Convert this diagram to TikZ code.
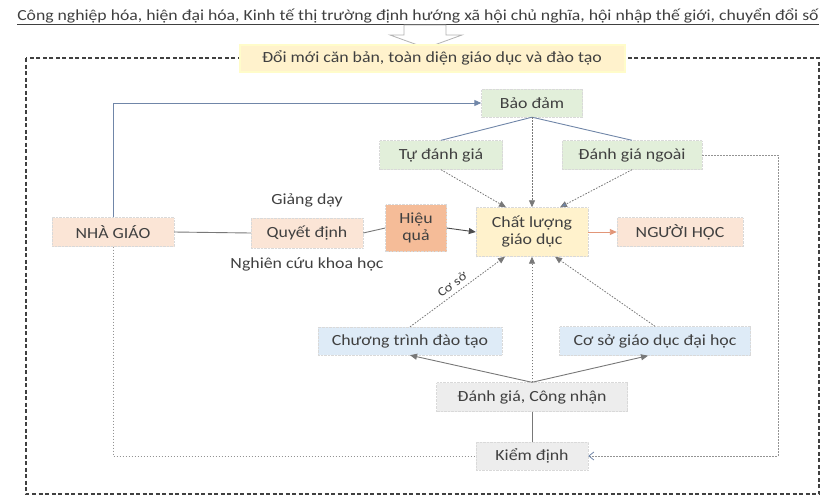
\documentclass[tikz,border=0pt]{standalone}
\usepackage{fontspec}
\setmainfont{Carlito}[FakeStretch=1.15]
\usetikzlibrary{
    arrows.meta,
    positioning,
    calc
}
\definecolor{txtgray}{RGB}{64,64,64}
\definecolor{lnblue}{RGB}{112,134,168}
\definecolor{lngray}{RGB}{120,120,120}
\definecolor{fgreen}{RGB}{226,239,218}
\definecolor{fyellow}{RGB}{255,242,204}
\definecolor{fpeach}{RGB}{251,229,214}
\definecolor{forange}{RGB}{245,188,152}
\definecolor{fblue}{RGB}{222,235,247}
\definecolor{fgray}{RGB}{237,237,237}
\definecolor{arrorange}{RGB}{226,150,120}
\tikzset{
  box/.style    = {draw=gray!30, densely dotted, text=txtgray, align=center,
                   font=\fontsize{15.5}{17}\selectfont, inner sep=2pt},
  gbox/.style   = {box, fill=fgreen},
  ybox/.style   = {box, fill=fyellow},
  pbox/.style   = {box, fill=fpeach},
  obox/.style   = {box, fill=forange},
  bbox/.style   = {box, fill=fblue},
  hbox/.style   = {box, fill=fgray},
  lab/.style    = {text=txtgray, font=\fontsize{15.5}{17}\selectfont},
  arr/.style    = {-{Triangle[length=7pt,width=6pt]}, line width=0.9pt, lngray},
  dotarr/.style = {-{Triangle[length=7pt,width=6pt]}, line width=0.8pt, lngray,
                   dash pattern=on 1.6pt off 1.4pt},
  ln/.style     = {line width=0.9pt, lngray}
}

\begin{document}
\begin{tikzpicture}[x=1pt, y=-1pt,
    frame/.style={dashed, line width=1.3pt, black!75, dash pattern=on 4pt off 2.5pt},
    barrow/.style={fill=white, draw=gray!60, line width=0.8pt},
    dotln/.style={line width=0.8pt, lngray!80, dash pattern=on 1.6pt off 1.4pt}
  ]
    \useasboundingbox (0,0) rectangle (834,498);

    \node[text=txtgray, font=\fontsize{15.4}{17}\selectfont] (title) at (418,17)
      {\underline{Công nghiệp hóa, hiện đại hóa, Kinh tế thị trường định hướng xã hội chủ nghĩa, hội nhập thế giới, chuyển đổi số}};
    \draw[frame] (26,58) rectangle (819,494);
    \draw[barrow] (404,25) -- (446,25) -- (446,35) -- (462,35) -- (426,48)
                  -- (390,35) -- (404,35) -- cycle;

    \node[ybox, draw=fyellow!60!yellow!40, solid, line width=2pt,
          minimum width=385pt, minimum height=27pt] (dm)   at (432,58)
      {Đổi mới căn bản, toàn diện giáo dục và đào tạo};

    \node[gbox, minimum width=101pt, minimum height=28pt] (bd)   at (532,103) {Bảo đảm};
    \node[gbox, minimum width=123pt, minimum height=29pt] (tdg)  at (441,155) {Tự đánh giá};
    \node[gbox, minimum width=140pt, minimum height=29pt] (dgn)  at (632,155) {Đánh giá ngoài};
    \node[pbox, minimum width=122pt, minimum height=29pt] (ng)   at (113,232) {NHÀ GIÁO};
    \node[pbox, minimum width=112pt, minimum height=30pt] (qd)   at (307,233) {Quyết định};
    \node[obox, minimum width=61pt,  minimum height=47pt] (hq)   at (416,228) {Hiệu\\quả};
    \node[ybox, minimum width=112pt, minimum height=49pt] (cl)   at (532,232) {Chất lượng\\giáo dục};
    \node[pbox, minimum width=126pt, minimum height=29pt] (nh)   at (680,232) {NGƯỜI HỌC};
    \node[bbox, minimum width=184pt, minimum height=28pt] (ctdt) at (410,341) {Chương trình đào tạo};
    \node[bbox, minimum width=191pt, minimum height=29pt] (csgd) at (655,341) {Cơ sở giáo dục đại học};
    \node[hbox, minimum width=191pt, minimum height=29pt] (dgcn) at (532,397) {Đánh giá, Công nhận};
    \node[hbox, minimum width=112pt, minimum height=28pt] (kd)   at (532,456) {Kiểm định};

    \node[lab] (gd)  at (307,200) {Giảng dạy};
    \node[lab] (nc)  at (307,264) {Nghiên cứu khoa học};
    \coordinate (rc) at (778,456);

    \draw[arr, lnblue] (ng.north) |- (bd.west);
    \draw[ln, lnblue] (bd.south) -- (tdg.north);
    \draw[ln, lnblue] (bd.south) -- (dgn.north);
    \draw[dotarr] (bd.south) -- (cl.north);
    \draw[dotarr] (tdg.south) -- ([xshift=-26pt]cl.north);
    \draw[dotarr, -{Triangle[length=7pt,width=6pt,fill=lnblue]}] (dgn.south) -- ([xshift=28pt]cl.north);

    \draw[ln] (ng.east) -- (qd.west);
    \draw[ln] (qd.east) -- (hq.west);
    \draw[arr, black!70] (hq.east) -- (cl.west);
    \draw[arr, arrorange] (cl.east) -- (nh.west);

    \draw[dotarr] (ctdt.north) -- node[pos=0.5, above=1pt, sloped, lab,
         font=\fontsize{12.5}{14}\selectfont] {Cơ sở} ([xshift=-27pt]cl.south);
    \draw[dotarr] (csgd.north) -- ([xshift=23pt]cl.south);
    \draw[dotarr] (dgcn.north) -- (cl.south);

    \draw[arr] (dgcn.north) -- (ctdt.south);
    \draw[arr] (dgcn.north) -- ([xshift=-7pt]csgd.south);
    \draw[ln] (dgcn.south) -- (kd.north);

    \draw[dotln] (ng.south) |- (kd.west);
    \draw[dotln, -{Straight Barb[length=5pt,width=8pt,color=lnblue]}] (dgn.east) -| (rc) -- (kd.east);
  \end{tikzpicture}
\end{document}
